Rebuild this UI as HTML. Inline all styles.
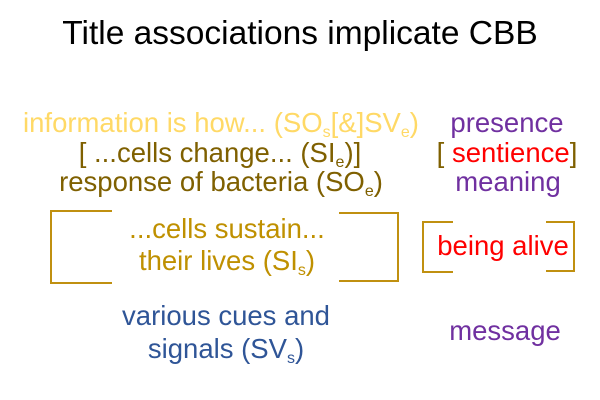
<!DOCTYPE html>
<html><head><style>
body{margin:0;width:600px;height:400px;background:#fff;position:relative;font-family:"Liberation Sans",sans-serif;overflow:hidden}
.t{position:absolute;white-space:nowrap;transform:translateX(-50%);font-size:27.5px;line-height:27.5px}
sub{font-size:16px;vertical-align:-5px;line-height:0}
.b{position:absolute;border-color:#c09010;border-style:solid;border-width:0}
</style></head><body>
<div class="t" style="left:300px;top:17px;font-size:33.5px;line-height:33.5px;color:#000">Title associations implicate CBB</div>
<div class="t" style="left:221px;top:109px;color:#ffd966">information is how... (SO<sub>s</sub>[&amp;]SV<sub>e</sub>)</div>
<div class="t" style="left:220px;top:139px;color:#7f6000">[ ...cells change... (SI<sub>e</sub>)]</div>
<div class="t" style="left:221px;top:168px;color:#7f6000">response of bacteria (SO<sub>e</sub>)</div>
<div class="t" style="left:507px;top:109px;color:#7030a0">presence</div>
<div class="t" style="left:507px;top:139px;color:#7f6000">[ <span style="color:#ff0000">sentience</span>]</div>
<div class="t" style="left:508px;top:168px;color:#7030a0">meaning</div>
<div class="t" style="left:227px;top:215px;color:#bf9000">...cells sustain...</div>
<div class="t" style="left:227px;top:247px;color:#bf9000">their lives (SI<sub>s</sub>)</div>
<div class="t" style="left:503px;top:232px;color:#ff0000">being alive</div>
<div class="t" style="left:226px;top:302px;color:#2f5597">various cues and</div>
<div class="t" style="left:226px;top:335px;color:#2f5597">signals (SV<sub>s</sub>)</div>
<div class="t" style="left:505px;top:317px;color:#7030a0">message</div>
<div class="b" style="left:50px;top:210px;width:60px;height:70px;border-width:2px 0 2px 2px"></div>
<div class="b" style="left:339px;top:212px;width:58px;height:66px;border-width:2px 2px 2px 0"></div>
<div class="b" style="left:422px;top:221px;width:29px;height:48px;border-width:2px 0 2px 2px"></div>
<div class="b" style="left:546px;top:221px;width:27px;height:47px;border-width:2px 2px 2px 0"></div>
</body></html>
